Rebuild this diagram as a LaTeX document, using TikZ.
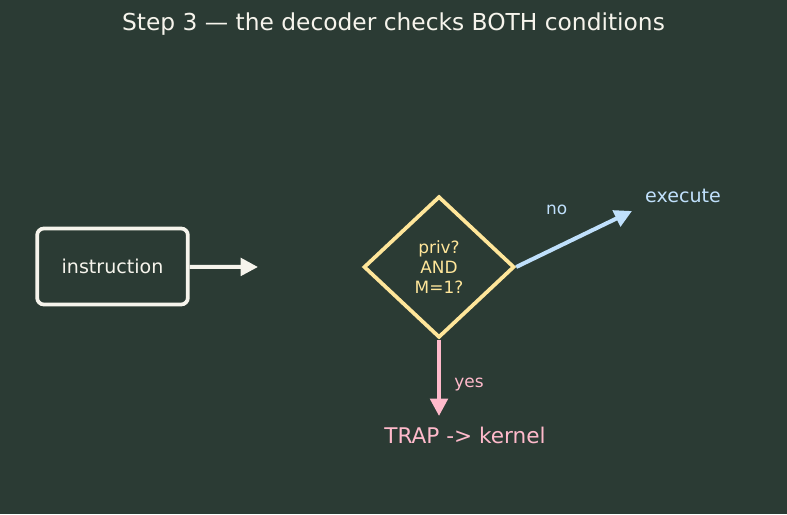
\documentclass[tikz,border=0pt]{standalone}
\usepackage{fontspec}
\setmainfont{DejaVu Sans}
\usetikzlibrary{arrows.meta,shapes.geometric}
\definecolor{bg}{HTML}{2B3B34}
\definecolor{chalk}{HTML}{F6F4EC}
\definecolor{butter}{HTML}{FFE69A}
\definecolor{skyblue}{HTML}{C0E0FC}
\definecolor{rose}{HTML}{FFBACB}

\begin{document}
\begin{tikzpicture}[x=0.75pt,y=0.75pt,
	box/.style={draw=chalk, line width=2.8pt, rounded corners=5pt, minimum width=113pt, minimum height=57pt, text=chalk, font=\fontsize{14.3}{17}\selectfont},
	test/.style={diamond, draw=butter, line width=2.8pt, minimum width=113pt, minimum height=106pt, inner sep=0pt, text=butter, align=center, font=\fontsize{12.7}{15}\selectfont},
	lbl/.style={font=\fontsize{14.3}{17}\selectfont},
	small/.style={font=\fontsize{12.7}{15}\selectfont},
	flow/.style={line width=3pt, -{Triangle[length=13pt,width=13pt]}}]
	\fill[bg] (0,0) rectangle (787,514);
	\node[text=chalk, font=\fontsize{17.5}{21}\selectfont] (title) at (393.5,490) {Step 3 — the decoder checks BOTH conditions};

	\node[box] (instr) at (112.5,247.5) {instruction};
	\node[test] (dec) at (439,247) {priv?\\AND\\M=1?};
	\node[lbl, text=skyblue] (exec) at (683,318) {execute};
	\node[lbl, text=rose, font=\fontsize{16.2}{19}\selectfont] (trap) at (465,79) {TRAP -> kernel};
	\coordinate (in) at (258,247);
	\coordinate (go) at (632,303);
	\coordinate (down) at (439,98);

	\path
	(instr) edge [flow, draw=chalk] (in)
	(dec.east) edge [flow, draw=skyblue] node [small, text=skyblue, pos=0.35, yshift=28pt] {no} (go)
	(dec.south) edge [flow, draw=rose] node [small, text=rose, pos=0.59, xshift=22.5pt] {yes} (down)
	;
\end{tikzpicture}
\end{document}
